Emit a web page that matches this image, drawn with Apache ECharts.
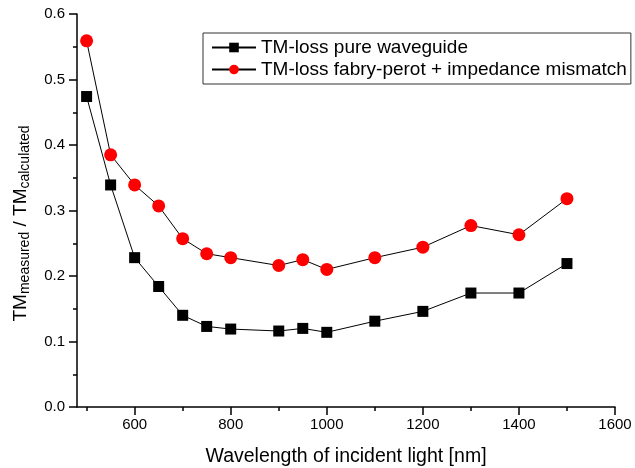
<!DOCTYPE html>
<html><head><meta charset="utf-8">
<script src="https://cdn.jsdelivr.net/npm/echarts@6/dist/echarts.min.js"></script>
<style>html,body{margin:0;padding:0;background:#fff}#c{width:635px;height:468px}</style>
</head><body><div id="c"></div>
<script>
const wavelengths = [500, 550, 600, 650, 700, 750, 800, 900, 950, 1000, 1100, 1200, 1300, 1400, 1500];
const pureWaveguide = [0.474, 0.339, 0.228, 0.184, 0.140, 0.123, 0.119, 0.116, 0.120, 0.114, 0.131, 0.146, 0.174, 0.174, 0.219];
const fabryPerot = [0.559, 0.385, 0.339, 0.307, 0.257, 0.234, 0.228, 0.216, 0.225, 0.210, 0.228, 0.244, 0.277, 0.263, 0.318];
const xMajorTicks = [600, 800, 1000, 1200, 1400, 1600];
const xMinorTicks = [500, 700, 900, 1100, 1300, 1500];
const seriesNames = ['TM-loss pure waveguide', 'TM-loss fabry-perot + impedance mismatch'];

const font = 'Liberation Sans, Arial, sans-serif';
const chart = echarts.init(document.getElementById('c'), null, {renderer: 'canvas'});
const xMin = 480, xMax = 1600;
const tickAxis = (vals, len) => ({
  type: 'value', min: xMin, max: xMax, position: 'bottom',
  axisLine: {show: false, onZero: false},
  axisTick: {show: true, length: len, lineStyle: {color: '#000', width: 1.5}, customValues: vals},
  axisLabel: {show: false},
  splitLine: {show: false}
});
chart.setOption({
  animation: false,
  backgroundColor: '#fff',
  grid: {left: 77, right: 20, top: 14, bottom: 61, containLabel: false, outerBoundsMode: 'none'},
  legend: {
    left: 203, top: 33, orient: 'vertical',
    borderColor: '#333', borderWidth: 1, borderRadius: 0,
    padding: [5, 4, 5, 8], itemGap: 3, itemWidth: 44, itemHeight: 12,
    textStyle: {fontFamily: font, fontSize: 19, color: '#000'},
    data: seriesNames
  },
  xAxis: [{
    type: 'value', min: xMin, max: xMax,
    name: 'Wavelength of incident light [nm]', nameLocation: 'middle', nameGap: 40,
    nameTextStyle: {fontFamily: font, fontSize: 19.5, color: '#000'},
    axisLine: {show: true, onZero: false, lineStyle: {color: '#000', width: 1.5}},
    axisTick: {show: false},
    axisLabel: {fontFamily: font, fontSize: 15, color: '#000', margin: 10, customValues: xMajorTicks, formatter: v => String(v)},
    splitLine: {show: false}
  }, tickAxis(xMajorTicks, 8), tickAxis(xMinorTicks, 4)],
  yAxis: [{
    type: 'value', min: 0, max: 0.6, interval: 0.1, position: 'left',
    name: '{m|TM}{s|measured}{m| / TM}{s|calculated}',
    nameLocation: 'middle', nameGap: 45, nameRotate: 90,
    nameTextStyle: {
      padding: [0, 26, 0, 0],
      rich: {
        m: {fontFamily: font, fontSize: 19, color: '#000'},
        s: {fontFamily: font, fontSize: 14, color: '#000', verticalAlign: 'bottom', padding: [8, 0, 0, 0]}
      }
    },
    axisLine: {show: true, onZero: false, lineStyle: {color: '#000', width: 1.5}},
    axisTick: {show: true, length: 8, lineStyle: {color: '#000', width: 1.5}},
    minorTick: {show: true, splitNumber: 2, length: 4, lineStyle: {color: '#000', width: 1.5}},
    axisLabel: {fontFamily: font, fontSize: 15, color: '#000', margin: 12, formatter: v => v.toFixed(1)},
    splitLine: {show: false}
  }],
  series: [{
    name: seriesNames[0], type: 'line', xAxisIndex: 0, yAxisIndex: 0,
    data: wavelengths.map((w, i) => [w, pureWaveguide[i]]),
    symbol: 'rect', symbolSize: 11,
    itemStyle: {color: '#000'},
    lineStyle: {color: '#000', width: 1}
  }, {
    name: seriesNames[1], type: 'line', xAxisIndex: 0, yAxisIndex: 0,
    data: wavelengths.map((w, i) => [w, fabryPerot[i]]),
    symbol: 'circle', symbolSize: 13,
    itemStyle: {color: '#ff0000'},
    lineStyle: {color: '#000', width: 1}
  }]
});
</script></body></html>
